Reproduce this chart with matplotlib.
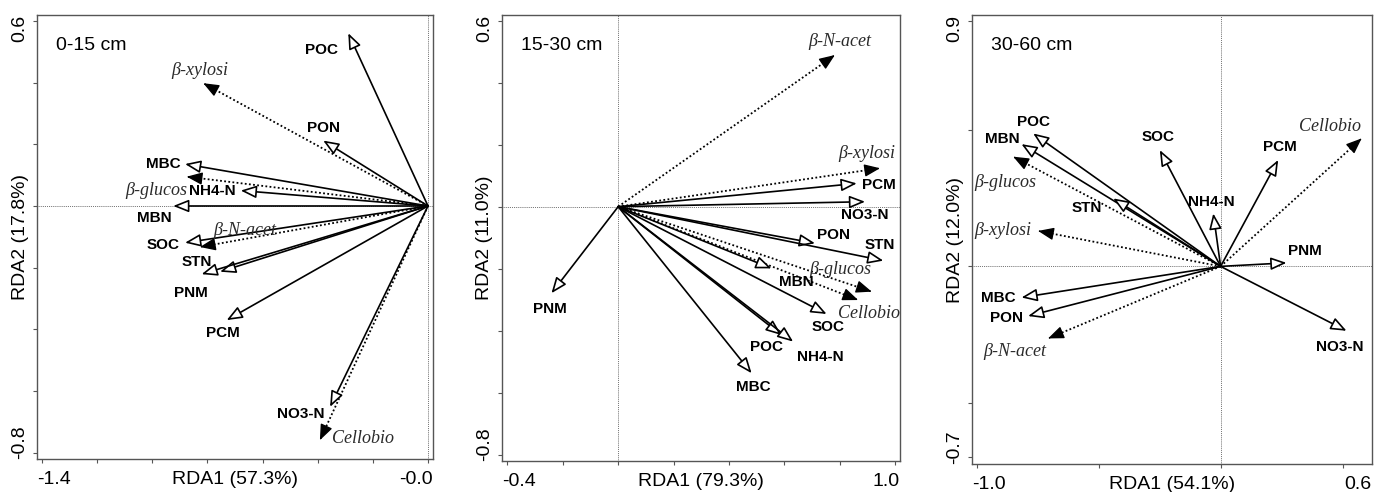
import matplotlib
matplotlib.use("Agg")
import matplotlib.pyplot as plt
from matplotlib.patches import FancyArrowPatch

plt.rcParams["font.family"] = ["Liberation Sans", "DejaVu Sans"]

# ── variable names ──────────────────────────────────────────────────────────
SOIL = ["POC", "PON", "MBC", "MBN", "NH4-N", "SOC", "STN", "PNM", "PCM", "NO3-N"]
ENZ = ["β-xylosi", "β-glucos", "β-N-acet", "Cellobio"]

# ── 0-15 cm ─────────────────────────────────────────────────────────────────
d1_soil_x = [-0.289, -0.380, -0.881, -0.924, -0.679, -0.881, -0.754, -0.821, -0.730, -0.355]
d1_soil_y = [0.560, 0.212, 0.136, 0.000, 0.050, -0.119, -0.213, -0.221, -0.370, -0.651]
d1_soil_lx = [-0.386, -0.380, -0.961, -0.994, -0.781, -0.961, -0.839, -0.860, -0.745, -0.461]
d1_soil_ly = [0.506, 0.252, 0.136, -0.040, 0.050, -0.126, -0.181, -0.283, -0.413, -0.674]
d1_enz_x = [-0.815, -0.875, -0.827, -0.392]
d1_enz_y = [0.398, 0.095, -0.133, -0.759]
d1_enz_lx = [-0.827, -0.984, -0.664, -0.235]
d1_enz_ly = [0.439, 0.050, -0.078, -0.755]

# ── 15-30 cm ────────────────────────────────────────────────────────────────
d2_soil_x = [0.590, 0.711, 0.482, 0.554, 0.632, 0.753, 0.958, -0.241, 0.862, 0.892]
d2_soil_y = [-0.414, -0.118, -0.537, -0.199, -0.435, -0.346, -0.174, -0.279, 0.075, 0.016]
d2_soil_lx = [0.536, 0.777, 0.488, 0.645, 0.729, 0.759, 0.946, -0.247, 0.940, 0.892]
d2_soil_ly = [-0.452, -0.091, -0.581, -0.244, -0.484, -0.389, -0.124, -0.331, 0.070, -0.027]
d2_enz_x = [0.946, 0.916, 0.783, 0.867]
d2_enz_y = [0.124, -0.274, 0.489, -0.301]
d2_enz_lx = [0.898, 0.801, 0.801, 0.907]
d2_enz_ly = [0.170, -0.202, 0.532, -0.346]

# ── 30-60 cm ────────────────────────────────────────────────────────────────
d3_soil_x = [-0.768, -0.789, -0.816, -0.816, -0.030, -0.249, -0.440, 0.270, 0.236, 0.516]
d3_soil_y = [0.487, -0.182, -0.114, 0.448, 0.194, 0.426, 0.249, 0.013, 0.390, -0.236]
d3_soil_lx = [-0.768, -0.877, -0.911, -0.893, -0.037, -0.256, -0.549, 0.345, 0.243, 0.489]
d3_soil_ly = [0.530, -0.188, -0.117, 0.465, 0.237, 0.473, 0.213, 0.057, 0.436, -0.295]
d3_enz_x = [-0.748, -0.850, -0.707, 0.578]
d3_enz_y = [0.130, 0.402, -0.264, 0.469]
d3_enz_lx = [-0.891, -0.884, -0.843, 0.448]
d3_enz_ly = [0.130, 0.306, -0.313, 0.512]

depths = ["0-15 cm", "15-30 cm", "30-60 cm"]
rda1 = ["RDA1 (57.3%)", "RDA1 (79.3%)", "RDA1 (54.1%)"]
rda2 = ["RDA2 (17.8%)", "RDA2 (11.0%)", "RDA2 (12.0%)"]
x_end_labels = [("-1.4", "-0.0"), ("-0.4", "1.0"), ("-1.0", "0.6")]
y_end_labels = [("-0.8", "0.6"), ("-0.8", "0.6"), ("-0.7", "0.9")]

AX_COL = "#555555"
HEAD = "-|>,head_length=0.95,head_width=0.38"


def draw_panel(ax, depth, xlab, ylab, xends, yends, soil, enz):
    ax.axhline(0, color="#444444", lw=0.6, ls=(0, (1, 1.3)), zorder=1)
    ax.axvline(0, color="#444444", lw=0.6, ls=(0, (1, 1.3)), zorder=1)

    sx, sy, slx, sly = soil
    ex, ey, elx, ely = enz

    # enzymes: dotted shaft, solid filled head
    for name, x, y, lx, ly in zip(ENZ, ex, ey, elx, ely):
        ax.plot([0, x * 0.97], [0, y * 0.97], color="black", lw=1.3,
                ls=(0, (1, 1.3)), zorder=2)
        ax.add_patch(FancyArrowPatch((x * 0.99, y * 0.99), (x, y), arrowstyle=HEAD,
                                     mutation_scale=10, lw=1.0, ec="black", fc="black",
                                     shrinkA=0, shrinkB=0, zorder=2))
        ax.text(lx, ly, name, family="Liberation Serif", style="italic", fontsize=13,
                ha="center", va="center", color="#2a2a2a", zorder=4)

    # soil properties: solid shaft, hollow head
    for name, x, y, lx, ly in zip(SOIL, sx, sy, slx, sly):
        ax.add_patch(FancyArrowPatch((0, 0), (x, y), arrowstyle=HEAD,
                                     mutation_scale=10, lw=1.2,
                                     ec="black", fc="white", shrinkA=0, shrinkB=0, zorder=3))
        ax.text(lx, ly, name, fontsize=11, fontweight="bold",
                ha="center", va="center", color="black", zorder=4)

    # axis end labels, R style (only the extremes)
    ax.tick_params(labelbottom=False, labelleft=False, direction="out",
                   length=3, width=0.8, color=AX_COL)
    ax.annotate(xends[0], (0, 0), xycoords="axes fraction", xytext=(0, -15),
                textcoords="offset points", ha="left", va="center", fontsize=14)
    ax.annotate(xends[1], (1, 0), xycoords="axes fraction", xytext=(0, -15),
                textcoords="offset points", ha="right", va="center", fontsize=14)
    ax.annotate(xlab, (0.5, 0), xycoords="axes fraction", xytext=(0, -15),
                textcoords="offset points", ha="center", va="center", fontsize=14)
    ax.annotate(yends[0], (0, 0), xycoords="axes fraction", xytext=(-12, 0),
                textcoords="offset points", ha="center", va="bottom", fontsize=14, rotation=90)
    ax.annotate(yends[1], (0, 1), xycoords="axes fraction", xytext=(-12, 0),
                textcoords="offset points", ha="center", va="top", fontsize=14, rotation=90)
    ax.annotate(ylab, (0, 0.5), xycoords="axes fraction", xytext=(-12, 0),
                textcoords="offset points", ha="center", va="center", fontsize=14, rotation=90)
    ax.annotate(depth, (0, 1), xycoords="axes fraction", xytext=(14, -22),
                textcoords="offset points", ha="left", va="center", fontsize=14)

    for sp in ax.spines.values():
        sp.set_color(AX_COL)
        sp.set_linewidth(1.0)


fig = plt.figure(figsize=(13.74, 4.92), dpi=100)
ax1 = fig.add_axes([0.0267, 0.0671, 0.2884, 0.9024])
ax2 = fig.add_axes([0.3651, 0.0630, 0.2899, 0.9065])
ax3 = fig.add_axes([0.7072, 0.0569, 0.2911, 0.9126])

ax1.set_xlim(-1.419, 0.018)
ax1.set_ylim(-0.82, 0.619)
ax1.set_xticks([-1.4, -1.2, -1.0, -0.8, -0.6, -0.4, -0.2, 0.0])
ax1.set_yticks([-0.8, -0.6, -0.4, -0.2, 0.0, 0.2, 0.4, 0.6])

ax2.set_xlim(-0.421, 1.018)
ax2.set_ylim(-0.82, 0.618)
ax2.set_xticks([-0.4, -0.2, 0.0, 0.2, 0.4, 0.6, 0.8, 1.0])
ax2.set_yticks([-0.8, -0.6, -0.4, -0.2, 0.0, 0.2, 0.4, 0.6])

ax3.set_xlim(-1.020, 0.619)
ax3.set_ylim(-0.724, 0.921)
ax3.set_xticks([-1.0, -0.5, 0.0, 0.5])
ax3.set_yticks([-0.7, -0.5, 0.0, 0.5, 0.9])

panels = [
    (ax1, (d1_soil_x, d1_soil_y, d1_soil_lx, d1_soil_ly), (d1_enz_x, d1_enz_y, d1_enz_lx, d1_enz_ly)),
    (ax2, (d2_soil_x, d2_soil_y, d2_soil_lx, d2_soil_ly), (d2_enz_x, d2_enz_y, d2_enz_lx, d2_enz_ly)),
    (ax3, (d3_soil_x, d3_soil_y, d3_soil_lx, d3_soil_ly), (d3_enz_x, d3_enz_y, d3_enz_lx, d3_enz_ly)),
]
for i, (ax, soil, enz) in enumerate(panels):
    draw_panel(ax, depths[i], rda1[i], rda2[i], x_end_labels[i], y_end_labels[i], soil, enz)

fig.savefig("out.png", dpi=100)
